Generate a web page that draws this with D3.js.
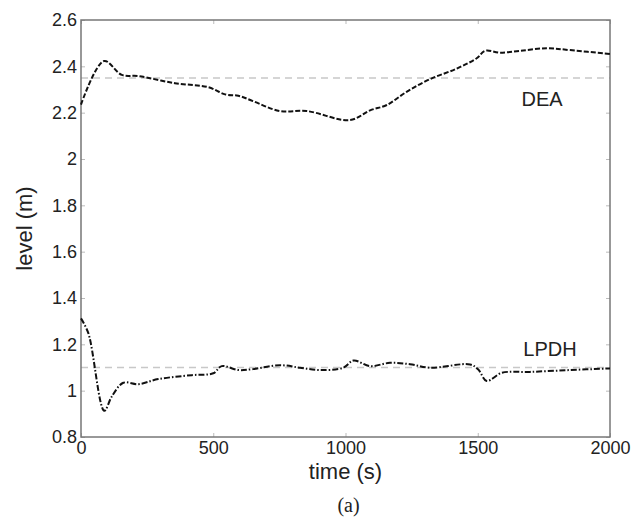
<!DOCTYPE html>
<html>
<head>
<meta charset="utf-8">
<script src="https://cdn.jsdelivr.net/npm/d3@7"></script>
<style>
  body { margin: 0; background: #fff; }
  svg { display: block; font-family: 'Liberation Sans', Arial, sans-serif; }
</style>
</head>
<body>
<div id="chart"></div>
<script>
// DEA level (time s, level m)
const deaTime = [0, 87, 154, 217, 355, 481, 545, 595, 650, 752, 853, 1017, 1093, 1156, 1231, 1320, 1420, 1496, 1528, 1584, 1660, 1761, 1849, 2000];
const deaLevel = [2.235, 2.423, 2.363, 2.358, 2.327, 2.31, 2.279, 2.273, 2.25, 2.207, 2.207, 2.168, 2.21, 2.233, 2.29, 2.345, 2.39, 2.435, 2.467, 2.459, 2.467, 2.478, 2.47, 2.453];

// LPDH level
const lpdhTime = [0, 28, 88, 116, 160, 217, 292, 419, 500, 532, 595, 650, 752, 828, 904, 992, 1030, 1093, 1168, 1244, 1320, 1471, 1502, 1534, 1591, 1698, 1849, 2000];
const lpdhLevel = [1.312, 1.247, 0.913, 0.974, 1.034, 1.028, 1.05, 1.067, 1.075, 1.106, 1.089, 1.093, 1.11, 1.099, 1.089, 1.099, 1.13, 1.106, 1.12, 1.114, 1.099, 1.113, 1.091, 1.042, 1.077, 1.081, 1.089, 1.096];

// set points
const setpoints = [2.35, 1.1];

const xTicks = [0, 500, 1000, 1500, 2000];
const yTicks = [0.8, 1, 1.2, 1.4, 1.6, 1.8, 2, 2.2, 2.4, 2.6];

const size = { width: 634, height: 520 };
const margin = { top: 20, right: 24, bottom: 83, left: 81 };

const svg = d3.select('#chart').append('svg')
  .attr('width', size.width)
  .attr('height', size.height);

const x = d3.scaleLinear()
  .domain([0, 2000])
  .range([margin.left, size.width - margin.right]);

const y = d3.scaleLinear()
  .domain([0.8, 2.6])
  .range([size.height - margin.bottom, margin.top]);

const axisColor = '#777';

// set point lines
svg.append('g')
  .selectAll('line')
  .data(setpoints)
  .enter()
  .append('line')
  .attr('x1', x(0))
  .attr('x2', x(2000))
  .attr('y1', (d) => y(d))
  .attr('y2', (d) => y(d))
  .attr('stroke', '#c8c8c8')
  .attr('stroke-width', 1.5)
  .attr('stroke-dasharray', '7,5');

// axes, ticks pointing inward on all sides
const tickStyle = (g) => {
  g.select('.domain').remove();
  g.selectAll('.tick line').attr('stroke', '#bbb').attr('stroke-width', 1);
  g.selectAll('.tick text')
    .attr('fill', '#222')
    .style('font-size', '18px')
    .style('font-family', "'Liberation Sans', Arial, sans-serif");
};

svg.append('g')
  .attr('transform', `translate(0, ${y(0.8)})`)
  .call(d3.axisBottom(x).tickValues(xTicks).tickFormat(d3.format('d')).tickSizeInner(-4).tickSizeOuter(0).tickPadding(4))
  .call(tickStyle);

svg.append('g')
  .attr('transform', `translate(0, ${y(2.6)})`)
  .call(d3.axisTop(x).tickValues(xTicks).tickFormat('').tickSizeInner(-4).tickSizeOuter(0))
  .call(tickStyle);

svg.append('g')
  .attr('transform', `translate(${x(0)}, 0)`)
  .call(d3.axisLeft(y).tickValues(yTicks).tickFormat((d) => d3.format('')(+d.toFixed(1))).tickSizeInner(-4).tickSizeOuter(0).tickPadding(4))
  .call(tickStyle);

svg.append('g')
  .attr('transform', `translate(${x(2000)}, 0)`)
  .call(d3.axisRight(y).tickValues(yTicks).tickFormat('').tickSizeInner(-4).tickSizeOuter(0))
  .call(tickStyle);

// box
svg.append('rect')
  .attr('x', x(0))
  .attr('y', y(2.6))
  .attr('width', x(2000) - x(0))
  .attr('height', y(0.8) - y(2.6))
  .attr('fill', 'none')
  .attr('stroke', axisColor)
  .attr('stroke-width', 1.5);

// series
const line = d3.line()
  .x((d) => x(d[0]))
  .y((d) => y(d[1]))
  .curve(d3.curveCatmullRom);

svg.append('path')
  .datum(d3.zip(deaTime, deaLevel))
  .attr('d', line)
  .attr('fill', 'none')
  .attr('stroke', '#111')
  .attr('stroke-width', 2)
  .attr('stroke-dasharray', '5,2');

svg.append('path')
  .datum(d3.zip(lpdhTime, lpdhLevel))
  .attr('d', line)
  .attr('fill', 'none')
  .attr('stroke', '#111')
  .attr('stroke-width', 2)
  .attr('stroke-dasharray', '6,2,1.5,2');

// labels
svg.append('text')
  .text('DEA')
  .attr('x', x(1743))
  .attr('y', y(2.23))
  .attr('text-anchor', 'middle')
  .attr('fill', '#222')
  .style('font-size', '20px');

svg.append('text')
  .text('LPDH')
  .attr('x', x(1773))
  .attr('y', y(1.149))
  .attr('text-anchor', 'middle')
  .attr('fill', '#222')
  .style('font-size', '20px');

svg.append('text')
  .text('time (s)')
  .attr('x', x(1000))
  .attr('y', 479)
  .attr('text-anchor', 'middle')
  .attr('fill', '#222')
  .style('font-size', '22px');

svg.append('text')
  .text('level (m)')
  .attr('transform', `translate(32, ${(y(0.8) + y(2.6)) / 2}) rotate(-90)`)
  .attr('text-anchor', 'middle')
  .attr('fill', '#222')
  .style('font-size', '22px');

svg.append('text')
  .text('(a)')
  .attr('x', x(1000) + 3)
  .attr('y', 512)
  .attr('text-anchor', 'middle')
  .attr('fill', '#222')
  .style('font-family', "'Liberation Serif', 'Times New Roman', serif")
  .style('font-size', '20px');
</script>
</body>
</html>
